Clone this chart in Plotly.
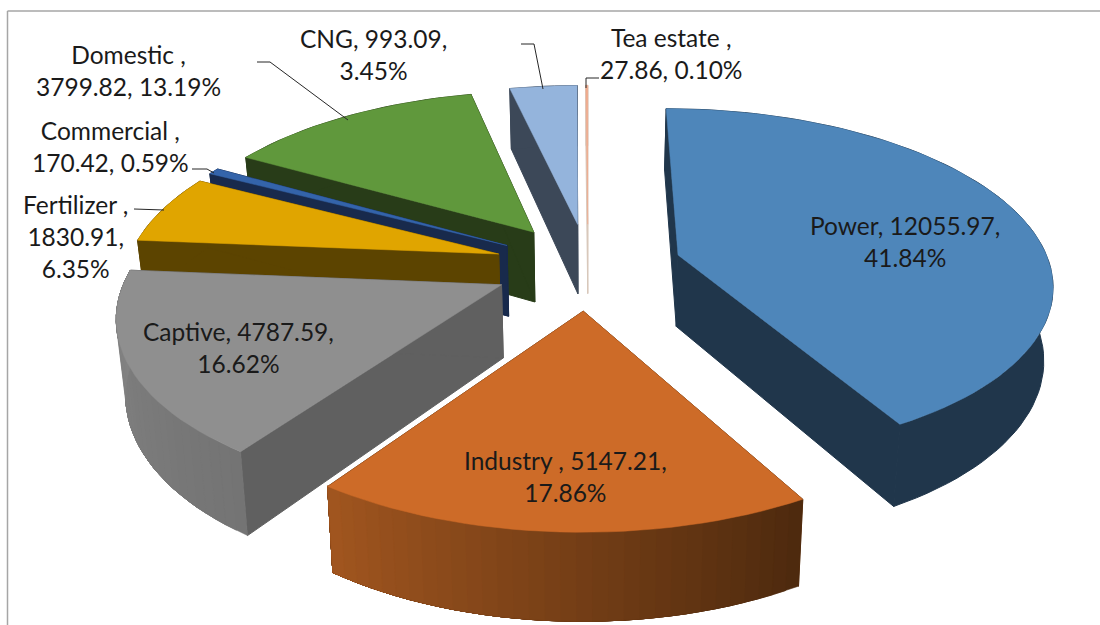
import math
import plotly.graph_objects as go

# ---- data ----
categories = ["Power", "Industry", "Captive", "Fertilizer", "Commercial", "Domestic", "CNG", "Tea estate"]
values = [12055.97, 5147.21, 4787.59, 1830.91, 170.42, 3799.82, 993.09, 27.86]
labels = [
    "Power, 12055.97,<br>41.84%", "Industry , 5147.21,<br>17.86%", "Captive, 4787.59,<br>16.62%",
    "Fertilizer ,<br>1830.91,<br>6.35%", "Commercial ,<br>170.42, 0.59%", "Domestic ,<br>3799.82, 13.19%",
    "CNG, 993.09,<br>3.45%", "Tea estate ,<br>27.86, 0.10%",
]
label_x = [905, 565, 238, 75, 110, 128, 373, 671]
label_y = [241, 476, 347, 236, 146, 70, 54, 53]

top_colors = ["#4E86BA", "#CD6B28", "#8F8F8F", "#E0A500", "#3464AA", "#60983C", "#94B4DC", "#F0AA8C"]
wall_colors = ["#20364B", "#5C3210", "#606060", "#5C4400", "#182A4C", "#283C18", "#3C4858", "#D8C8BC"]
# outer wall colour at the slice's start and end angle
outer_start = ["#20364B", "#4E2A0E", "#747474", "#5C4400", "#182A4C", "#283C18", "#3C4858", "#D8C8BC"]
outer_end = ["#20364B", "#A0551F", "#848484", "#5C4400", "#182A4C", "#283C18", "#3C4858", "#D8C8BC"]
draw_order = [7, 6, 5, 4, 3, 2, 0, 1]

leaders = [
    [(257, 62), (270, 62), (348, 120)],
    [(192, 169), (207, 169), (214, 173)],
    [(134, 209), (164, 210)],
    [(521, 44), (534, 44), (543, 89)],
    [(599, 78), (586, 78), (586, 88)],
]

# ---- projection parameters ----
CX, CY, R, PULL, K, PERSP, DEPTH = 588, 266, 372, 94, 0.462, 0.153, 72


def proj(X, Y, low=False):
    s = 1 / (1 + PERSP * Y / R)
    sb = s * 0.98 if low else s
    return CX + X * sb, CY - K * Y * s + (DEPTH * s if low else 0)


def hex_mix(a, b, t):
    ca = [int(a[i:i + 2], 16) for i in (1, 3, 5)]
    cb = [int(b[i:i + 2], 16) for i in (1, 3, 5)]
    return "#%02X%02X%02X" % tuple(round(x + (y - x) * t) for x, y in zip(ca, cb))


def poly(pts, color, width=0.5):
    return go.Scatter(
        x=[p[0] for p in pts] + [pts[0][0]],
        y=[p[1] for p in pts] + [pts[0][1]],
        mode="lines", fill="toself", fillcolor=color,
        line=dict(color=color, width=width), hoverinfo="skip", showlegend=False,
    )


fig = go.Figure()
total = sum(values)
starts, acc = [], 0.0
for v in values:
    starts.append(acc / total * 2 * math.pi)
    acc += v

for i in draw_order:
    a0 = starts[i]
    a1 = a0 + values[i] / total * 2 * math.pi
    mid = (a0 + a1) / 2
    ax, ay = PULL * math.sin(mid), PULL * math.cos(mid)
    n = max(2, int((a1 - a0) / math.radians(2)))
    ang = [a0 + (a1 - a0) * j / n for j in range(n + 1)]
    rim = [(ax + R * math.sin(t), ay + R * math.cos(t)) for t in ang]
    # radial walls
    for pt in (rim[0], rim[-1]):
        fig.add_trace(poly([proj(ax, ay), proj(*pt), proj(*pt, low=True), proj(ax, ay, low=True)], wall_colors[i], 1))
    # outer wall: each band runs to the end of the arc and the next paints over it, so no seams
    if outer_start[i] == outer_end[i]:
        fig.add_trace(poly([proj(*p) for p in rim] + [proj(*p, low=True) for p in reversed(rim)], outer_start[i], 1))
    else:
        for j in range(n):
            c = hex_mix(outer_start[i], outer_end[i], j / max(1, n - 1))
            band = rim[j:]
            fig.add_trace(poly([proj(*p) for p in band] + [proj(*p, low=True) for p in reversed(band)], c))
    # top face
    fig.add_trace(poly([proj(ax, ay)] + [proj(*p) for p in rim], top_colors[i]))

for pts in leaders:
    fig.add_trace(go.Scatter(x=[p[0] for p in pts], y=[p[1] for p in pts], mode="lines",
                             line=dict(color="#262626", width=1), hoverinfo="skip", showlegend=False))

for t, x, y in zip(labels, label_x, label_y):
    fig.add_annotation(x=x, y=y, text=t, showarrow=False, xanchor="center", yanchor="middle",
                       font=dict(family="Lato", size=24.5, color="#1A1A1A"), align="center")

fig.add_shape(type="line", x0=7.5, x1=7.5, y0=11, y1=625, line=dict(color="#A6A6A6", width=1.5))
fig.add_shape(type="line", x0=7.5, x1=1100, y0=11, y1=11, line=dict(color="#A6A6A6", width=1.5))

fig.update_layout(
    width=1100, height=625, margin=dict(l=0, r=0, t=0, b=0),
    paper_bgcolor="white", plot_bgcolor="white", showlegend=False,
    xaxis=dict(range=[0, 1100], visible=False, fixedrange=True),
    yaxis=dict(range=[625, 0], visible=False, fixedrange=True),
)
fig.write_html("out.html", config={"displayModeBar": False},
               post_script="document.body.style.margin='0';")
